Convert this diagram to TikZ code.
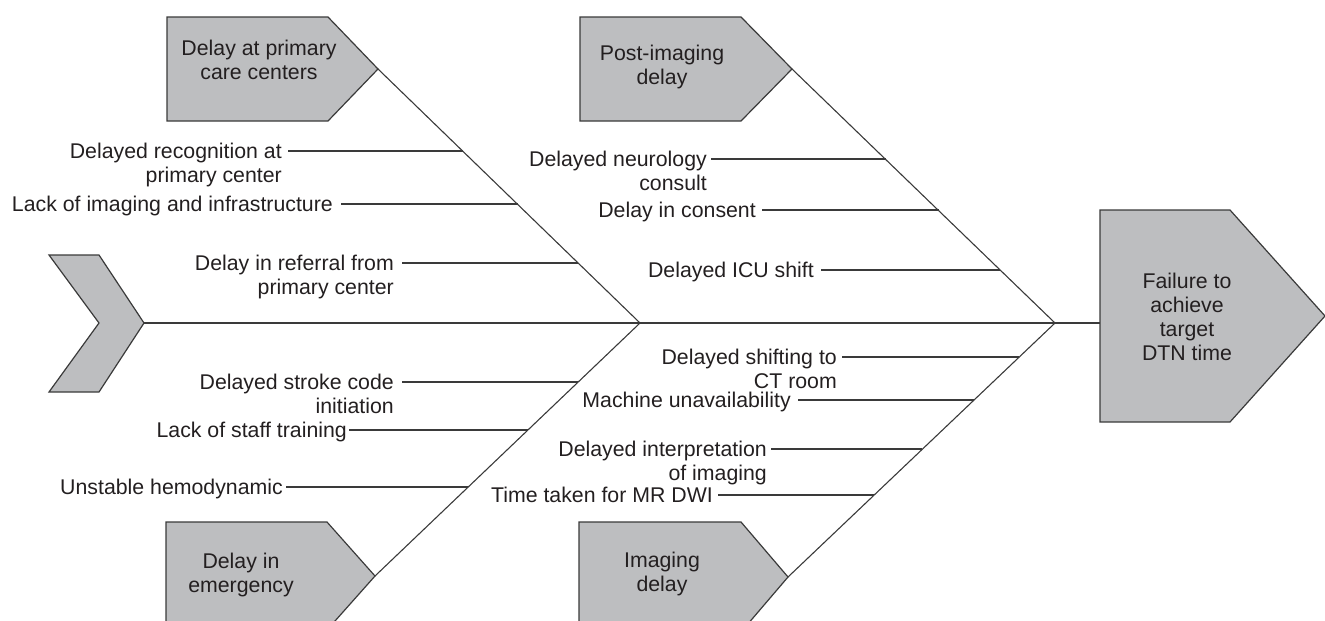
\documentclass[tikz,border=0pt]{standalone}
\usepackage{fontspec}
\setmainfont{Liberation Sans}
\definecolor{boxfill}{HTML}{BDBEC0}
\definecolor{edge}{HTML}{3A3A3A}
\definecolor{ink}{HTML}{231F20}
\newcommand\ribitem[6]{%
  \node[lab] (#1) at (#2,#3+7) {\begin{tabular}[t]{@{}r@{}}#6\end{tabular}};
  \coordinate (#1-e) at (#5,#3);
  \draw[bone] ([shift={(#4-#2,-7)}]#1.base east) -- (#1-e);
}
\newcommand\boxtext[4]{%
  \node[boxtxt] (#1) at (#2,#3) {\begin{tabular}[t]{@{}c@{}}#4\end{tabular}};
}
\begin{document}
\begin{tikzpicture}[x=1pt,y=-1pt,
  font=\fontsize{21.3}{24}\selectfont,
  lab/.style={anchor=base east,inner sep=0pt,text=ink},
  boxtxt/.style={anchor=base,inner sep=0pt,text=ink},
  bone/.style={draw=edge,line width=1.1pt},
  cat/.style={fill=boxfill,draw=edge,line width=1.2pt,line join=miter}]
\useasboundingbox (0,0) rectangle (1325,621);
\clip (0,0) rectangle (1325,621);
% category boxes
\draw[cat] (167,17) -- (328,17) -- (378,69) coordinate (tA) -- (328,121) -- (167,121) -- cycle;
\draw[cat] (580,17) -- (741,17) -- (792,69) coordinate (tB) -- (741,121) -- (580,121) -- cycle;
\draw[cat] (166,522) -- (327,522) -- (375,576) coordinate (tC) -- (327,630) -- (166,630) -- cycle;
\draw[cat] (579,522) -- (741,522) -- (788,577) coordinate (tD) -- (741,632) -- (579,632) -- cycle;
\draw[cat] (1100,210) coordinate (effTL) -- (1230,210) -- (1325,316) -- (1230,422) -- (1100,422) -- cycle;
\draw[cat] (49,255) -- (99,255) -- (144,323) coordinate (tail) -- (99,392) -- (49,392) -- (99,323) -- cycle;
\coordinate (J1) at (640,323);
\coordinate (J2) at (1055,323);
\coordinate (eff) at (1100,323);
% spine and main bones
\draw[bone] (tail) -- (J1) -- (J2) -- (eff);
\draw[bone] (tA) -- (J1) -- (tC);
\draw[bone] (tB) -- (J2) -- (tD);
% box texts
\boxtext{bA}{259}{55}{Delay at primary\\care centers}
\boxtext{bB}{662}{60}{Post-imaging\\delay}
\boxtext{bC}{241}{568}{Delay in\\emergency}
\boxtext{bD}{662}{567}{Imaging\\delay}
\boxtext{bE}{1187}{288}{Failure to\\achieve\\target\\DTN time}
% ribs
\ribitem{r1}{282}{151}{288}{463.3}{Delayed recognition at\\primary center}
\ribitem{r2}{333}{204}{341}{517.7}{Lack of imaging and infrastructure}
\ribitem{r3}{394}{263}{402}{578.4}{Delay in referral from\\primary center}
\ribitem{r4}{394}{382}{402}{578}{Delayed stroke code\\initiation}
\ribitem{r5}{347}{430}{349}{527.5}{Lack of staff training}
\ribitem{r6}{283}{487}{286}{467.5}{Unstable hemodynamic}
\ribitem{r7}{707}{159}{711}{885.9}{Delayed neurology\\consult}
\ribitem{r8}{756}{210}{762}{938.5}{Delay in consent}
\ribitem{r9}{814}{270}{821}{1000.3}{Delayed ICU shift}
\ribitem{r10}{837}{357}{842}{1019}{Delayed shifting to\\CT room}
\ribitem{r11}{791}{400}{798}{973.7}{Machine unavailability}
\ribitem{r12}{767}{449}{771}{922}{Delayed interpretation\\of imaging}
\ribitem{r13}{713}{495}{718}{873.5}{Time taken for MR DWI}
\end{tikzpicture}
\end{document}
